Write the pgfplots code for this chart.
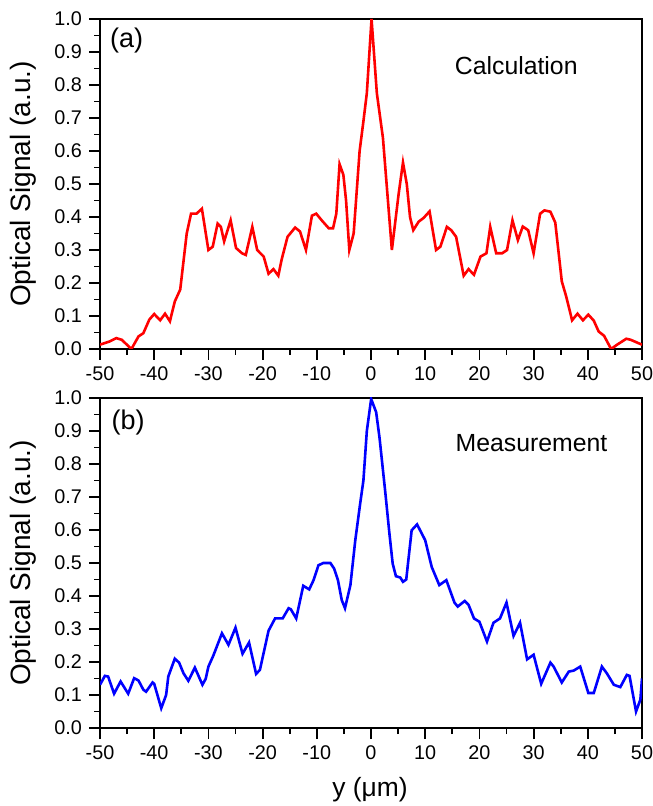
\documentclass[border=0pt]{standalone}
\usepackage{fontspec}
\setmainfont{Liberation Sans}
\usepackage{pgfplots}
\pgfplotsset{compat=1.18}
\pgfplotsset{myax/.style={
  width=271pt, height=165pt, scale only axis,
  xmin=-50, xmax=50, ymin=0, ymax=1,
  xtick={-50,-40,-30,-20,-10,0,10,20,30,40,50},
  ytick={0,0.1,0.2,0.3,0.4,0.5,0.6,0.7,0.8,0.9,1.0},
  minor x tick num=1, minor y tick num=1,
  tick align=outside, tick pos=left,
  axis line style={line width=1pt},
  major tick length=5.5pt, minor tick length=3pt,
  every tick/.style={black, line width=0.9pt},
  /pgf/number format/assume math mode=true,
  yticklabel style={/pgf/number format/fixed, /pgf/number format/fixed zerofill, /pgf/number format/precision=1},
  ticklabel style={font=\fontsize{9.9}{12}\selectfont},
  label style={font=\fontsize{14}{16}\selectfont},
  ylabel={Optical Signal (a.u.)},
  ylabel style={at={(axis description cs:-0.141,0.5)}, anchor=center},
}}
\begin{document}
\begin{tikzpicture}
\path[use as bounding box] (-50pt,-39pt) rectangle (276pt,364pt);
\begin{axis}[myax, at={(0pt,189.5pt)}]
\addplot[red, line width=1.3pt] coordinates {
(-50,0.013) (-48.2,0.023) (-47,0.033) (-46,0.028) (-44.2,0.0) (-42.9,0.038) (-42,0.048)
(-40.9,0.089) (-40,0.106) (-38.9,0.087) (-38,0.107) (-37.1,0.084) (-36.2,0.144) (-35.2,0.18)
(-34,0.35) (-33.2,0.41) (-32.2,0.41) (-31.2,0.425) (-30,0.30) (-29.2,0.31) (-28.3,0.38)
(-27.7,0.37) (-27.1,0.326) (-25.9,0.39) (-24.9,0.306) (-23.8,0.29) (-23.1,0.285) (-21.9,0.37)
(-21,0.30) (-19.8,0.28) (-18.9,0.228) (-18,0.242) (-17.1,0.222) (-16.5,0.27) (-15.4,0.34)
(-14,0.368) (-13.1,0.356) (-12,0.30) (-10.9,0.404) (-10.1,0.41) (-9.1,0.39) (-7.8,0.366)
(-7,0.366) (-6.4,0.41) (-5.8,0.56) (-5.1,0.528) (-4.6,0.45) (-4.0,0.30) (-3.2,0.35)
(-2.1,0.60) (-1.4,0.69) (-0.77,0.775) (0.1,1.0) (1.08,0.775) (2.2,0.64) (3.85,0.30)
(5.1,0.47) (5.9,0.565) (6.6,0.50) (7.2,0.40) (7.8,0.36) (8.8,0.386) (9.7,0.397) (10.8,0.417)
(12.0,0.30) (12.8,0.31) (14.0,0.37) (14.8,0.36) (15.7,0.34) (17.1,0.222) (18.0,0.242)
(19.0,0.225) (20.2,0.28) (21.3,0.29) (22.0,0.37) (23.1,0.29) (24.2,0.29) (25.1,0.30)
(26.1,0.39) (27.1,0.33) (28.0,0.371) (29.0,0.36) (30.0,0.29) (31.2,0.41) (32.0,0.42)
(33.1,0.416) (34.0,0.383) (35.2,0.205) (36.0,0.16) (37.1,0.087) (38.1,0.107) (39.1,0.087)
(40.1,0.104) (41.1,0.086) (42.0,0.053) (43.0,0.04) (44.3,0.0) (45.4,0.013) (47.1,0.031)
(47.9,0.028) (50,0.013)
};
\node[font=\fontsize{13.5}{15}\selectfont] at (axis cs:-45.1,0.935) {(a)};
\node[font=\fontsize{12.4}{14}\selectfont] at (axis cs:26.8,0.858) {Calculation};
\end{axis}
\begin{axis}[myax, at={(0pt,0pt)}, xlabel={y (μm)},
  xlabel style={at={(axis description cs:0.498,-0.186)}, anchor=center, font=\fontsize{13.2}{15}\selectfont}]
\addplot[blue, line width=1.3pt] coordinates {
(-50,0.131) (-49.1,0.158) (-48.5,0.156) (-47.4,0.104) (-46.2,0.141) (-44.8,0.104) (-43.7,0.151)
(-42.9,0.144) (-42,0.116) (-41.5,0.11) (-40.3,0.138) (-40,0.134) (-38.7,0.06) (-37.8,0.10)
(-37.4,0.156) (-36.2,0.21) (-35.4,0.198) (-34.6,0.166) (-33.7,0.143) (-32.5,0.183) (-31.1,0.131)
(-30.5,0.149) (-30,0.186) (-29.1,0.219) (-27.5,0.287) (-26.3,0.252) (-25,0.304) (-23.7,0.225)
(-22.5,0.259) (-21.2,0.164) (-20.5,0.176) (-18.9,0.295) (-17.7,0.332) (-16.3,0.332) (-15.2,0.363)
(-14.8,0.36) (-13.8,0.332) (-12.5,0.431) (-11.4,0.42) (-10.6,0.448) (-9.7,0.493) (-8.8,0.50)
(-7.5,0.50) (-6.8,0.483) (-6.1,0.448) (-5.4,0.388) (-4.8,0.363) (-3.8,0.433) (-2.9,0.569)
(-2.0,0.68) (-1.4,0.75) (-0.77,0.90) (0.03,0.997) (0.95,0.957) (1.57,0.88) (2.6,0.72)
(3.4,0.589) (4.0,0.498) (4.6,0.46) (5.4,0.456) (5.9,0.443) (6.5,0.45) (7.5,0.599) (8.5,0.617)
(10.0,0.569) (11.2,0.488) (12.6,0.433) (13.9,0.448) (15.4,0.38) (16.0,0.368) (17.3,0.385)
(18.0,0.373) (19.0,0.332) (20.0,0.322) (21.4,0.262) (22.6,0.319) (23.8,0.332) (25.0,0.38)
(26.3,0.279) (27.5,0.319) (28.8,0.208) (30.0,0.222) (31.4,0.134) (33.1,0.198) (33.7,0.186)
(35.2,0.138) (36.5,0.171) (37.4,0.174) (38.6,0.186) (40.1,0.106) (41.1,0.106) (42.6,0.186)
(43.5,0.166) (44.8,0.131) (46.0,0.124) (47.2,0.161) (47.7,0.158) (48.9,0.05) (49.7,0.086)
(50,0.15)
};
\node[font=\fontsize{13.5}{15}\selectfont] at (axis cs:-44.8,0.927) {(b)};
\node[font=\fontsize{12.4}{14}\selectfont] at (axis cs:29.6,0.862) {Measurement};
\end{axis}
\end{tikzpicture}
\end{document}
